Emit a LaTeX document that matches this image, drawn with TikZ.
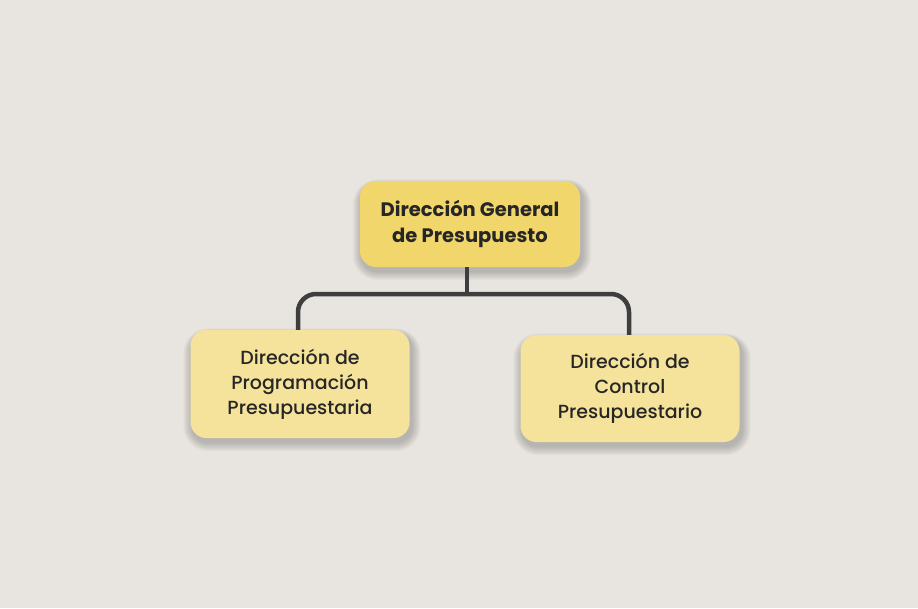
\documentclass[tikz,border=0pt]{standalone}
\usepackage{fontspec}
\setmainfont{Poppins}[UprightFont=* Medium, BoldFont=* Bold]
\usetikzlibrary{backgrounds}
\pgfdeclarelayer{bottomlayer}
\pgfsetlayers{bottomlayer,background,main}
\definecolor{bg}{HTML}{E8E5E0}
\definecolor{topfill}{HTML}{F1D66B}
\definecolor{subfill}{HTML}{F5E39B}
\definecolor{linec}{HTML}{3E3E3E}
\definecolor{txt}{HTML}{262626}
\tikzset{
  unit/.style={rounded corners=16pt, align=center, text=txt, inner sep=0pt},
  topbox/.style={unit, fill=topfill, minimum width=220pt, minimum height=86pt, font=\fontsize{19.5}{26}\selectfont\bfseries},
  subbox/.style={unit, fill=subfill, minimum width=219pt, minimum height=108pt, font=\fontsize{19}{25}\selectfont},
  conn/.style={draw=linec, line width=4.5pt, rounded corners=18pt},
  shade layer/.style={fill=black, opacity=0.022}
}
\begin{document}
\begin{tikzpicture}[x=1pt,y=-1pt]
\begin{pgfonlayer}{bottomlayer}
\fill[bg] (0,0) rectangle (918,608);
\end{pgfonlayer}
\useasboundingbox (0,0) rectangle (918,608);
\coordinate (junc) at (467,294);
\node[topbox] (top) at (470,224) {Dirección General\\de Presupuesto};
\node[subbox] (left) at (300,384) {Dirección de\\Programación\\Presupuestaria};
\node[subbox, minimum height=107pt] (right) at (630,388.5) {Dirección de\\Control\\Presupuestario};
\begin{pgfonlayer}{background}
\foreach \n in {top,left,right}{
  \foreach \k in {1,...,9}{
    \fill[shade layer, rounded corners={16pt+\k pt}]
      ([xshift={2pt-\k pt}, yshift={-4pt+\k pt*0.6}]\n.north west)
      rectangle ([xshift={2pt+\k pt}, yshift={-4pt-\k pt}]\n.south east);
  }
}
\end{pgfonlayer}
\draw[conn] (top.south -| junc) -- (junc);
\draw[conn] (left.north -| 298,0) |- (junc) -| (right.north -| 629,0);
\end{tikzpicture}
\end{document}
